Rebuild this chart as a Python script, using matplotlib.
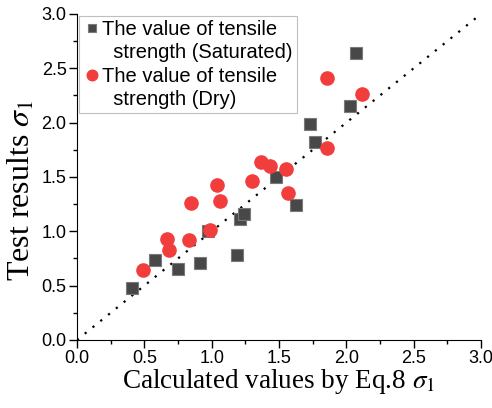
import matplotlib
matplotlib.use('Agg')
import matplotlib.pyplot as plt
from matplotlib.lines import Line2D
import numpy as np

# saturated specimens (calculated, tested)
sat_calc = [0.41, 0.58, 0.75, 0.91, 0.97, 1.19, 1.21, 1.24, 1.48, 1.63, 1.73, 1.77, 2.03, 2.07]
sat_test = [0.48, 0.74, 0.65, 0.71, 1.00, 0.78, 1.11, 1.16, 1.50, 1.24, 1.99, 1.82, 2.15, 2.64]

# dry specimens
dry_calc = [0.49, 0.67, 0.68, 0.83, 0.85, 0.99, 1.04, 1.06, 1.30, 1.37, 1.43, 1.55, 1.57, 1.86, 1.86, 2.12]
dry_test = [0.64, 0.93, 0.83, 0.92, 1.26, 1.01, 1.43, 1.28, 1.46, 1.64, 1.60, 1.57, 1.35, 2.41, 1.77, 2.26]

ticks = [0.0, 0.5, 1.0, 1.5, 2.0, 2.5, 3.0]
legend_lines = ['The value of tensile', '  strength (Saturated)',
                'The value of tensile', '  strength (Dry)']

plt.rcParams['font.family'] = ['Liberation Sans', 'DejaVu Sans']
plt.rcParams['mathtext.fontset'] = 'stix'

fig = plt.figure(figsize=(4.92, 4.08), dpi=100)
ax = fig.add_axes([0.1565, 0.1667, 0.821, 0.799])

# 1:1 reference line
ax.plot([0, 3], [0, 3], color='black', linestyle=(0, (1, 3.5)), linewidth=1.6, zorder=1)

sq, = ax.plot(sat_calc, sat_test, 's', color='#484848', markeredgecolor='#7a7a7a',
              markeredgewidth=0.8, markersize=8, linestyle='none', zorder=2)
ci, = ax.plot(dry_calc, dry_test, 'o', color='#f23d3d', markeredgecolor='#f23d3d',
              markersize=9.5, linestyle='none', zorder=3)

ax.set_xlim(0, 3)
ax.set_ylim(0, 3)
ax.set_xticks(ticks)
ax.set_yticks(ticks)
ax.set_xticks(np.arange(0.25, 3, 0.5), minor=True)
ax.set_yticks(np.arange(0.25, 3, 0.5), minor=True)
ax.set_xticklabels(['%.1f' % t for t in ticks])
ax.set_yticklabels(['%.1f' % t for t in ticks])
ax.tick_params(axis='both', which='major', direction='out', length=5.5, width=1, labelsize=13, pad=2)
ax.tick_params(axis='both', which='minor', direction='out', length=3, width=1)

ax.spines['top'].set_visible(False)
ax.spines['right'].set_visible(False)

ax.set_xlabel(r'Calculated values by Eq.8 $\sigma_1$', family='Liberation Serif', fontsize=19.5, labelpad=0)
ax.set_ylabel(r'Test results $\sigma_1$', family='Liberation Serif', fontsize=23)
ax.yaxis.set_label_coords(-0.10, 0.46)

# legend: marker only on the first line of each two-line entry
blank = Line2D([], [], linestyle='none')
leg = ax.legend([sq, blank, ci, blank], legend_lines, loc='upper left', fontsize=14.5,
                frameon=True, fancybox=False, handletextpad=0.05, handlelength=0.9,
                labelspacing=0.22, borderpad=0.2, borderaxespad=0.1, markerscale=0.8)
leg.get_frame().set_edgecolor('#b0b0b0')
leg.get_frame().set_linewidth(0.8)

fig.savefig('out.png', dpi=100)
